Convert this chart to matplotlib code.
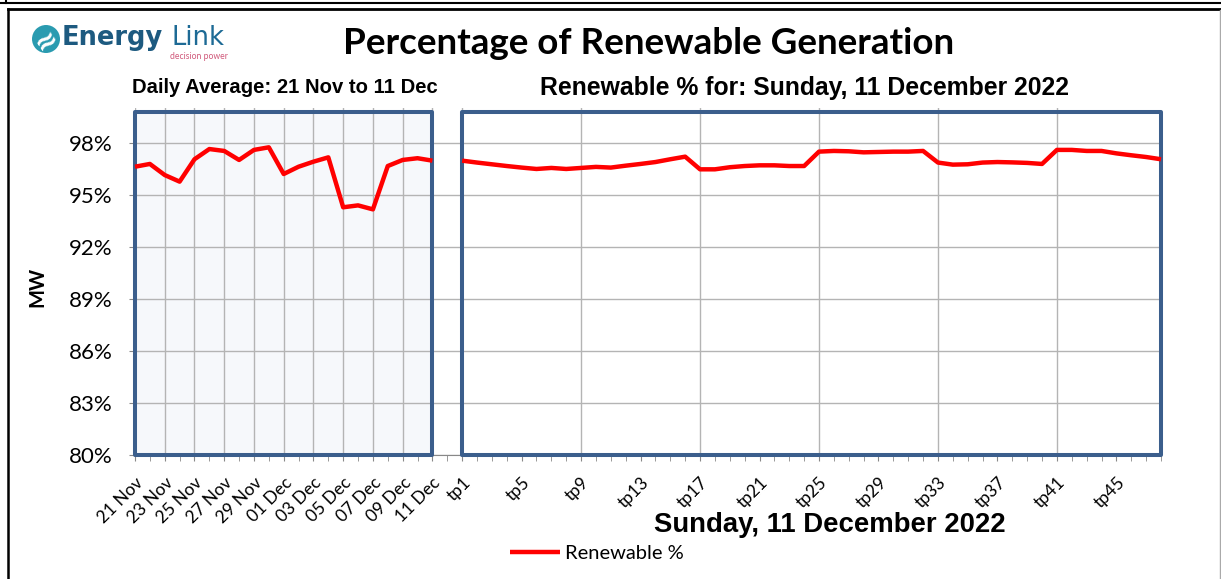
import matplotlib
matplotlib.use("Agg")
import matplotlib.pyplot as plt
from matplotlib.patches import Rectangle, Ellipse
from matplotlib.lines import Line2D

# ---------------- data ----------------
day_labels = ["21 Nov", "22 Nov", "23 Nov", "24 Nov", "25 Nov", "26 Nov", "27 Nov",
              "28 Nov", "29 Nov", "30 Nov", "01 Dec", "02 Dec", "03 Dec", "04 Dec",
              "05 Dec", "06 Dec", "07 Dec", "08 Dec", "09 Dec", "10 Dec", "11 Dec"]
daily_renewable = [96.63, 96.79, 96.15, 95.77, 97.06, 97.65, 97.54, 97.02, 97.60, 97.75,
                   96.21, 96.63, 96.92, 97.17, 94.29, 94.40, 94.17, 96.67, 97.02, 97.12, 96.98]
tp_labels = ["tp%d" % i for i in range(1, 49)]
tp_renewable = [96.98, 96.87, 96.77, 96.67, 96.58, 96.50, 96.56, 96.50, 96.56, 96.62,
                96.58, 96.69, 96.79, 96.90, 97.06, 97.21, 96.48, 96.48, 96.60, 96.67,
                96.71, 96.71, 96.67, 96.67, 97.50, 97.54, 97.52, 97.46, 97.48, 97.50,
                97.50, 97.54, 96.87, 96.75, 96.77, 96.87, 96.90, 96.88, 96.85, 96.79,
                97.60, 97.60, 97.54, 97.54, 97.40, 97.29, 97.19, 97.06]
y_ticks = [80, 83, 86, 89, 92, 95, 98]
y_tick_labels = ["80%", "83%", "86%", "89%", "92%", "95%", "98%"]

W, H = 1221, 579
fig = plt.figure(figsize=(W / 100, H / 100), dpi=100)


def fx(x):
    return x / W


def fy(y):
    return 1 - y / H


CAL = ["Lato", "DejaVu Sans"]
ARI = ["Liberation Sans", "DejaVu Sans"]
BLUE = "#3B5E8C"
GRID = "#B4B4B4"

# axes area: x from 135 px to 1161 px ; y from 455 px (80%) to ~108 px (100%)
ax = fig.add_axes([fx(135), fy(455), fx(1161) - fx(135), fy(108.3) - fy(455)])

n_days = len(daily_renewable)
gap = 1
day_x = list(range(n_days))
tp_x = [n_days + gap + i for i in range(len(tp_renewable))]
x_max = tp_x[-1]

ax.set_xlim(0, x_max)
ax.set_ylim(80, 100)

# panels
ax.add_patch(Rectangle((0, 80), day_x[-1], 19.8, facecolor="#F6F8FB", edgecolor="none", zorder=0.1))
ax.add_patch(Rectangle((0, 80), day_x[-1], 19.8, facecolor="none", edgecolor=BLUE,
                       lw=2.9, zorder=3, clip_on=False, joinstyle="round"))
ax.add_patch(Rectangle((tp_x[0], 80), tp_x[-1] - tp_x[0], 19.8, facecolor="none",
                       edgecolor=BLUE, lw=2.9, zorder=3, clip_on=False, joinstyle="round"))

# lines
ax.plot(day_x, daily_renewable, color="#FF0000", lw=3.2, zorder=4, label="Renewable %",
        solid_capstyle="butt", clip_on=False)
ax.plot(tp_x, tp_renewable, color="#FF0000", lw=3.2, zorder=4, solid_capstyle="butt",
        clip_on=False)

# grid
ax.set_axisbelow(True)
ax.set_yticks(y_ticks, labels=y_tick_labels, fontsize=16, family=CAL)
ax.grid(axis="y", color=GRID, lw=1.0)
vgrid = [day_x[i] for i in range(0, n_days, 2)] + [tp_x[i] for i in range(0, len(tp_x), 8)]
for v in vgrid:
    ax.axvline(v, color=GRID, lw=1.0, zorder=0.5)

# x ticks
major_pos = [day_x[i] for i in range(0, n_days, 2)] + [tp_x[i] for i in range(0, len(tp_x), 4)]
major_lab = [day_labels[i] for i in range(0, n_days, 2)] + [tp_labels[i] for i in range(0, len(tp_x), 4)]
ax.set_xticks(major_pos)
ax.set_xticklabels(major_lab, rotation=45, ha="right", va="top", rotation_mode="anchor",
                   family=CAL, fontsize=12.5)
ax.set_xticks(list(range(0, x_max + 1)), minor=True)
ax.tick_params(axis="x", which="both", direction="out", length=4, color="#888888", pad=10)
ax.tick_params(axis="y", direction="out", length=4, color="#888888", pad=12)

for s in ["top", "right", "left"]:
    ax.spines[s].set_visible(False)
ax.spines["bottom"].set_color("#888888")

fig.text(fx(37), fy(287), "MW", family=CAL, fontweight="bold", fontsize=14.5,
         rotation=90, ha="center", va="center")

# titles
fig.text(fx(649), fy(44), "Percentage of Renewable Generation", family=CAL, fontweight="bold",
         fontsize=26.5, ha="center", va="center")
fig.text(fx(285), fy(88), "Daily Average: 21 Nov to 11 Dec", family=ARI, fontweight="bold",
         fontsize=14.6, ha="center", va="center")
fig.text(fx(804), fy(88), "Renewable % for: Sunday, 11 December 2022", family=ARI,
         fontweight="bold", fontsize=17.8, ha="center", va="center")
fig.text(fx(830), fy(525), "Sunday, 11 December 2022", family=ARI, fontweight="bold",
         fontsize=19.8, ha="center", va="center")

# legend
fig.legend(loc="center left", bbox_to_anchor=(fx(510), fy(553)), frameon=False,
           prop={"family": CAL, "size": 14.5}, handlelength=2.5, handletextpad=0.25,
           borderaxespad=0, borderpad=0)

# logo
fig.add_artist(Ellipse((fx(46), fy(39)), width=28 / W, height=28 / H, transform=fig.transFigure,
                       facecolor="#2A9BB0", edgecolor="none"))
fig.text(fx(46), fy(40), "≈", color="white", fontsize=20, ha="center", va="center",
         fontweight="bold", rotation=35, family=["DejaVu Sans"])
fig.text(fx(62), fy(45), "Energy", family=["DejaVu Sans"], fontweight="bold", color="#1D5A80",
         fontsize=18.5, ha="left", va="baseline")
fig.text(fx(172), fy(45), "Link", family=["DejaVu Sans"], color="#1D6A95", fontsize=18.5,
         ha="left", va="baseline")
fig.text(fx(228), fy(56.5), "decision power", family=CAL, color="#D0587A", fontsize=6.2,
         ha="right", va="center")

# frame lines
for (x0, y0, x1, y1, c, lw) in [(0, 3, W, 3, "black", 1.5), (6, 0, 6, 3, "black", 1.5),
                                (8, 9, W, 9, "black", 2.0), (8, 9, 8, H, "black", 1.8),
                                (1220, 10, 1220, H, "#AAAAAA", 1.0)]:
    fig.add_artist(Line2D([fx(x0), fx(x1)], [fy(y0), fy(y1)], transform=fig.transFigure,
                          color=c, lw=lw))

fig.savefig("out.png", dpi=100)
